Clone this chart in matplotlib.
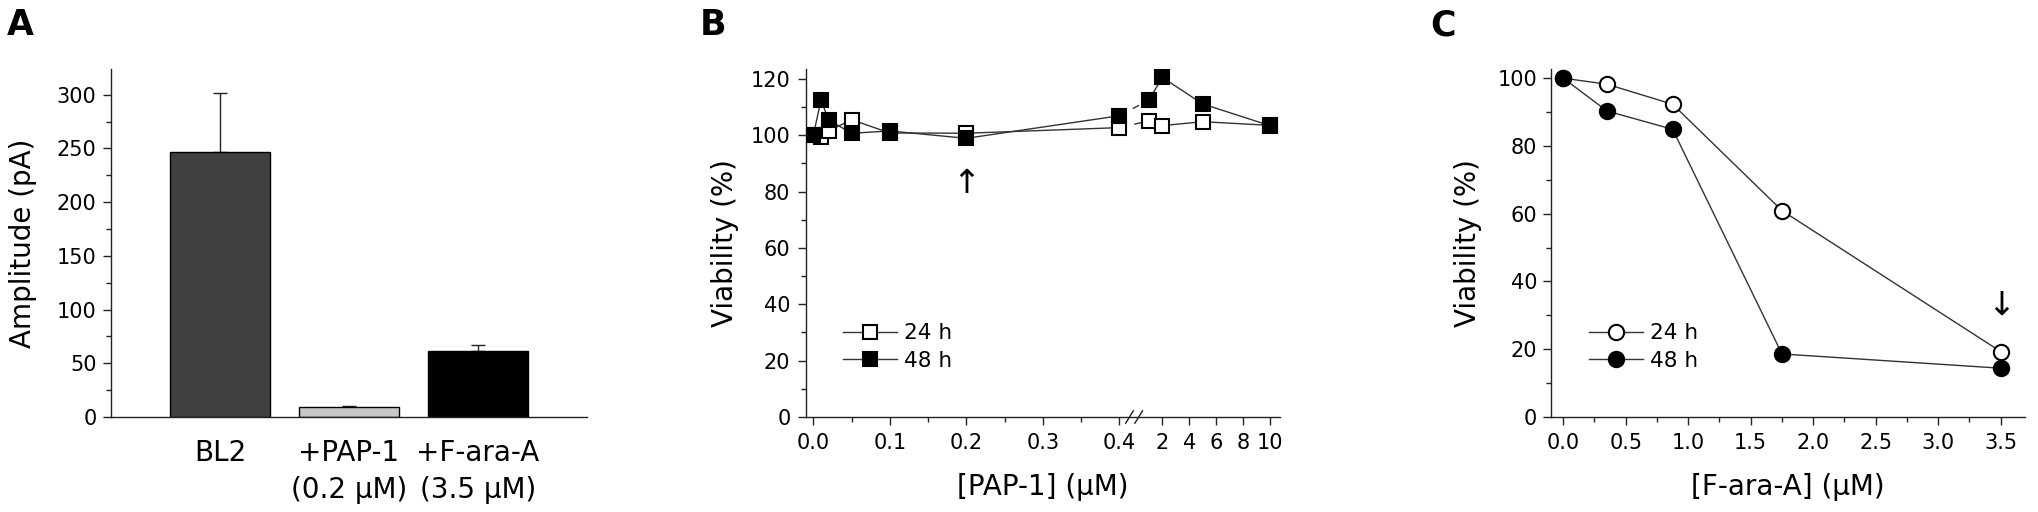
import numpy as np
import matplotlib
matplotlib.use('Agg')
import matplotlib.pyplot as plt
from matplotlib.ticker import MultipleLocator, FixedLocator

plt.rcParams['font.family'] = ['DejaVu Sans']

# panel A: current amplitude
bar_labels = ['BL2', '+PAP-1\n(0.2 \u03bcM)', '+F-ara-A\n(3.5 \u03bcM)']
bar_values = [247, 9.3, 61]
bar_errors = [55, 1.2, 6]
bar_colors = ['#404040', '#c8c8c8', '#000000']

# panel B: viability vs PAP-1 (broken x axis)
pap_conc = [0, 0.01, 0.02, 0.05, 0.1, 0.2, 0.4, 1, 2, 5, 10]
pap_24h = [100, 99.5, 101.5, 105.5, 100.8, 100.7, 102.7, 105.1, 103.4, 104.8, 103.5]
pap_48h = [100, 112.5, 105.4, 100.7, 101.5, 98.9, 106.9, 112.5, 120.5, 111.1, 103.4]
pap_ticks = [0, 0.1, 0.2, 0.3, 0.4, 2, 4, 6, 8, 10]
pap_tick_labels = ['0.0', '0.1', '0.2', '0.3', '0.4', '2', '4', '6', '8', '10']

# panel C: viability vs F-ara-A
fara_conc = [0, 0.35, 0.875, 1.75, 3.5]
fara_24h = [100, 98.2, 92.3, 60.9, 19.3]
fara_48h = [100, 90.3, 84.9, 18.6, 14.4]

TICK_FS = 15
LABEL_FS = 20
LEG_FS = 15.5
LINE_C = '#333333'

fig = plt.figure(figsize=(20.38, 5.12), dpi=100)
axA = fig.add_axes([0.05446, 0.18555, 0.23356, 0.67969])
axB = fig.add_axes([0.39534, 0.18555, 0.23273, 0.67969])
axC = fig.add_axes([0.76104, 0.18555, 0.23258, 0.67969])


def style_axes(ax, ypad):
    for s in ['top', 'right']:
        ax.spines[s].set_visible(False)
    for s in ['left', 'bottom']:
        ax.spines[s].set_linewidth(1.0)
        ax.spines[s].set_color('#222222')
    ax.tick_params(which='major', direction='out', length=5.5, width=1.0,
                   labelsize=TICK_FS, pad=6, color='#222222')
    ax.tick_params(which='minor', direction='out', length=3.5, width=1.0,
                   color='#222222')
    ax.tick_params(axis='y', which='major', pad=ypad)


# ---- A ----
style_axes(axA, 5)
pos = np.arange(1, len(bar_values) + 1)
axA.bar(pos, bar_values, width=0.775, color=bar_colors, edgecolor='black',
        linewidth=1.0, zorder=2)
axA.errorbar(pos, bar_values, yerr=[np.zeros(len(bar_errors)), bar_errors],
             fmt='none', ecolor='#222222', elinewidth=1.0, capsize=4.7,
             capthick=1.0, zorder=1)
axA.set_xlim(0.155, 3.845)
axA.set_ylim(0, 324)
axA.yaxis.set_major_locator(MultipleLocator(50))
axA.yaxis.set_minor_locator(MultipleLocator(25))
axA.set_xticks(pos)
axA.set_xticklabels(bar_labels, fontsize=20, linespacing=1.4)
axA.tick_params(axis='x', which='both', length=0, pad=16)
axA.set_ylabel('Amplitude (pA)', fontsize=LABEL_FS)
axA.yaxis.set_label_coords(-0.184, 0.5)
axA.yaxis.label.set_va('center')

# ---- B ----
style_axes(axB, 5.5)
BRK_X = [-10, 0.4, 1.0, 100]
BRK_U = [-10, 0.4, 0.4387, 0.4387 + 99 * 0.01758]


def fwd(x):
    return np.interp(x, BRK_X, BRK_U)


def inv(u):
    return np.interp(u, BRK_U, BRK_X)


axB.set_xscale('function', functions=(fwd, inv))
x = np.array(pap_conc)
y24 = np.array(pap_24h)
y48 = np.array(pap_48h)
lo = x <= 0.4
hi = x >= 1
gap = (x == 0.4) | (x == 1)
for yy, face, lab, z in [(y24, 'white', '24 h', 3), (y48, 'black', '48 h', 4)]:
    axB.plot(x[lo], yy[lo], color=LINE_C, lw=1.0, marker='s', ms=10,
             mfc=face, mec='black', mew=1.5, label=lab, zorder=z)
    axB.plot(x[hi], yy[hi], color=LINE_C, lw=1.0, marker='s', ms=10,
             mfc=face, mec='black', mew=1.5, zorder=z)
    axB.plot(x[gap], yy[gap], color=LINE_C, lw=1.0, ls=(0, (5, 6)),
             zorder=z - 1)
axB.set_xlim(-0.01, 10.75)
axB.set_ylim(0, 123.5)
axB.xaxis.set_major_locator(FixedLocator(pap_ticks))
axB.xaxis.set_minor_locator(FixedLocator([0.05, 0.15, 0.25, 0.35]))
axB.set_xticklabels(pap_tick_labels)
axB.yaxis.set_major_locator(MultipleLocator(20))
axB.yaxis.set_minor_locator(MultipleLocator(10))
axB.set_ylabel('Viability (%)', fontsize=LABEL_FS)
axB.yaxis.set_label_coords(-0.170, 0.5)
axB.yaxis.label.set_va('center')
axB.set_xlabel('[PAP-1] (\u03bcM)', fontsize=LABEL_FS)
axB.xaxis.set_label_coords(0.5, -0.201)
axB.xaxis.label.set_va('center')
# break marks on the x axis
u_brk = (0.4 + 0.4387) / 2
for du in (-0.006, 0.006):
    xb = inv(np.array([u_brk + du - 0.005, u_brk + du + 0.005]))
    axB.plot(xb, [-2.2, 2.2], color='#222222', lw=1.0, clip_on=False, zorder=6)
axB.text(0.2, 83, '\u2191', ha='center', va='center', fontsize=24)
axB.legend(loc='center left', bbox_to_anchor=(0.0786, 0.2005), frameon=False,
           fontsize=LEG_FS, handlelength=2.5, handletextpad=0.35,
           labelspacing=0.35, borderpad=0, borderaxespad=0)

# ---- C ----
style_axes(axC, 4.5)
axC.plot(fara_conc, fara_24h, color=LINE_C, lw=1.0, marker='o', ms=11,
         mfc='white', mec='black', mew=1.5, label='24 h', zorder=3)
axC.plot(fara_conc, fara_48h, color=LINE_C, lw=1.0, marker='o', ms=11,
         mfc='black', mec='black', mew=1.5, label='48 h', zorder=4)
axC.set_xlim(-0.098, 3.694)
axC.set_ylim(0, 102.7)
axC.xaxis.set_major_locator(MultipleLocator(0.5))
axC.xaxis.set_minor_locator(MultipleLocator(0.25))
axC.xaxis.set_major_formatter(plt.FormatStrFormatter('%.1f'))
axC.yaxis.set_major_locator(MultipleLocator(20))
axC.yaxis.set_minor_locator(MultipleLocator(10))
axC.set_ylabel('Viability (%)', fontsize=LABEL_FS)
axC.yaxis.set_label_coords(-0.175, 0.5)
axC.yaxis.label.set_va('center')
axC.set_xlabel('[F-ara-A] (\u03bcM)', fontsize=LABEL_FS)
axC.xaxis.set_label_coords(0.5, -0.201)
axC.xaxis.label.set_va('center')
axC.text(3.5, 33, '\u2193', ha='center', va='center', fontsize=24)
axC.legend(loc='center left', bbox_to_anchor=(0.080, 0.2005), frameon=False,
           fontsize=LEG_FS, handlelength=2.5, handletextpad=0.35,
           labelspacing=0.35, borderpad=0, borderaxespad=0)

# panel letters
for lab, px in [('A', 7), ('B', 700), ('C', 1430)]:
    fig.text(px / 2038, 1 - 25 / 512, lab, fontsize=25, fontweight='bold',
             ha='left', va='center')

fig.savefig('out.png', dpi=100)
